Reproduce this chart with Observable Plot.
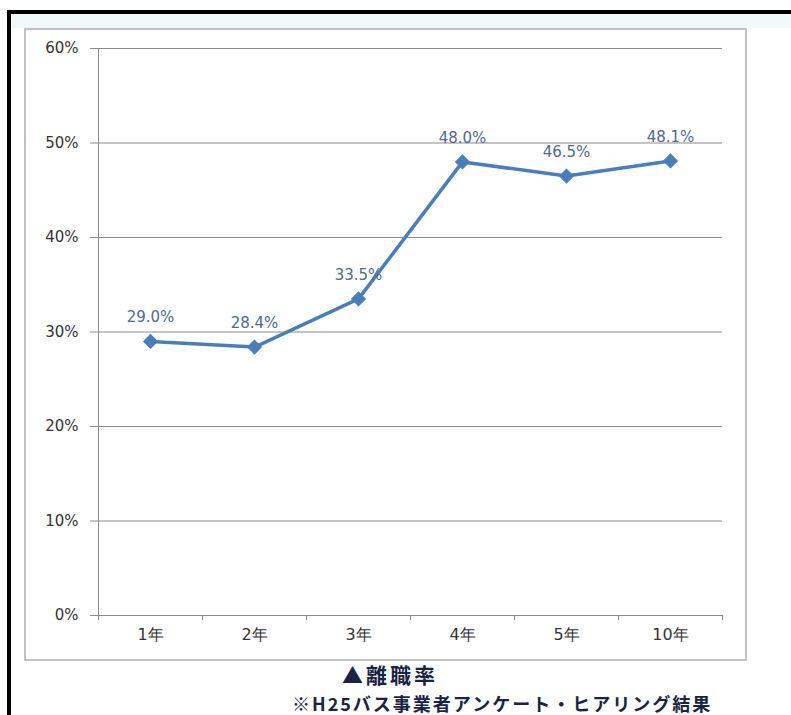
<!DOCTYPE html>
<html>
<head>
<meta charset="utf-8">
<script src="https://cdn.jsdelivr.net/npm/d3@7"></script>
<script src="https://cdn.jsdelivr.net/npm/@observablehq/plot@0.6"></script>
<style>
  html, body { margin: 0; padding: 0; background: #ffffff; }
  body { width: 791px; height: 715px; position: relative; overflow: hidden; font-family: "DejaVu Sans", sans-serif; }
  #outer { position: absolute; left: 7px; top: 10px; width: 790px; height: 720px;
           border-top: 4px solid #000; border-left: 4px solid #000; box-sizing: border-box; background: #fff; }
  #strip { position: absolute; left: 11px; top: 14px; width: 780px; height: 14px; background: #f3f9f8; }
  #frame { position: absolute; left: 24px; top: 28px; width: 723px; height: 633px;
           border: 2px solid #c3c3c3; box-sizing: border-box; background: #fff; }
  #chart { position: absolute; left: 24px; top: 28px; }
  #title { position: absolute; left: 342px; top: 661px; font-family: "Noto Sans CJK JP", sans-serif;
           font-weight: bold; font-size: 21px; letter-spacing: 3px; color: #1b2345; line-height: 26px; white-space: nowrap; }
  #caption { position: absolute; left: 292px; top: 693px; font-family: "Noto Sans CJK JP", sans-serif;
           font-weight: bold; font-size: 18px; letter-spacing: 2px; color: #1b2345; line-height: 20px; white-space: nowrap; }
</style>
</head>
<body>
<div id="outer"></div>
<div id="strip"></div>
<div id="frame"></div>
<div id="chart"></div>
<div id="title">▲離職率</div>
<div id="caption">※H25バス事業者アンケート・ヒアリング結果</div>
<script>
const categories = ["1年", "2年", "3年", "4年", "5年", "10年"];
const rates = [0.290, 0.284, 0.335, 0.480, 0.465, 0.481];
const yTicks = [0, 0.1, 0.2, 0.3, 0.4, 0.5, 0.6];

const data = categories.map((c, i) => ({cat: c, rate: rates[i]}));

const W = 722, H = 632;
const mL = 74, mR = 24, mT = 20, mB = 45;
const half = (W - mL - mR) / categories.length / 2;
const fmt = d3.format(".1%");

const chart = Plot.plot({
  width: W,
  height: H,
  marginLeft: mL,
  marginRight: mR,
  marginTop: mT,
  marginBottom: mB,
  style: { fontFamily: "DejaVu Sans, sans-serif", background: "transparent", overflow: "visible" },
  x: { type: "band", domain: categories, padding: 0, axis: null, label: null },
  y: { domain: [0, 0.6], axis: null, label: null },
  marks: [
    Plot.gridY(yTicks, { stroke: "#8a8a8a", strokeOpacity: 1, strokeWidth: 1 }),
    Plot.axisY({ ticks: yTicks, label: null, tickFormat: d3.format(".0%"), tickSize: 8, tickPadding: 12,
                 stroke: "#8a8a8a", strokeOpacity: 1, fill: "#333", fontSize: 15, style: "letter-spacing:2px" }),
    Plot.ruleX([categories[0]], { dx: -half, y1: 0, y2: 0.6, stroke: "#8a8a8a" }),
    Plot.ruleY([0], { stroke: "#8a8a8a" }),
    Plot.axisX({ ticks: categories, label: null, tickSize: 5, tickFormat: () => "", dx: -half, stroke: "#8a8a8a", strokeOpacity: 1 }),
    Plot.axisX({ ticks: [categories[categories.length - 1]], label: null, tickSize: 5, tickFormat: () => "", dx: half, stroke: "#8a8a8a", strokeOpacity: 1 }),
    Plot.axisX({ ticks: categories, label: null, tickSize: 0, tickPadding: 13, fill: "#333", fontSize: 16, style: "letter-spacing:2px" }),
    Plot.line(data, { x: "cat", y: "rate", stroke: "#4a7ebb", strokeWidth: 3.5 }),
    Plot.dot(data, { x: "cat", y: "rate", symbol: "square", rotate: 45, r: 5.5, fill: "#4a7ebb", stroke: "#4a7ebb", strokeWidth: 1 }),
    Plot.text(data, { x: "cat", y: "rate", text: d => fmt(d.rate), dy: -24, fill: "#51698c", fontSize: 15, style: "letter-spacing:1.5px" })
  ]
});
document.getElementById("chart").appendChild(chart);
</script>
</body>
</html>
